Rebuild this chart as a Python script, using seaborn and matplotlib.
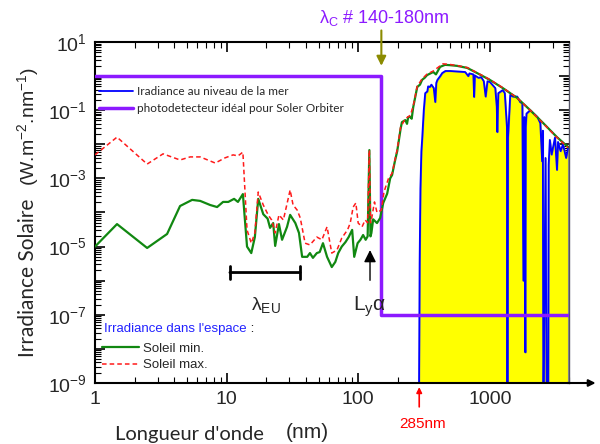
import numpy as np
import seaborn as sns
import matplotlib
matplotlib.use("Agg")
import matplotlib.pyplot as plt
from matplotlib.ticker import LogLocator, FixedLocator, NullFormatter

# Soleil min. (espace) : longueur d'onde (nm), log10 irradiance
min_nm = [1, 1.47, 2.49, 3.53, 4.43, 5.47, 6.3, 7.5, 8.47, 9.4, 10.3, 11.4, 12.2, 13.3,
          14.3, 15.4, 16.4, 17.4, 19, 20.5, 21.4, 22.6, 23.4, 25, 26.4, 28.8, 30.4, 33.3,
          35.5, 37.5, 41, 43, 45.3, 48.5, 51, 54, 58, 63, 67, 70.5, 75, 80, 84.7, 90,
          93.3, 99, 104, 109, 114, 118, 121.6, 124, 126, 130, 139, 147, 155, 166, 175,
          181, 190, 198, 210, 215, 228, 235, 240, 249, 255, 262, 281, 295, 306, 320, 334,
          372, 390, 419, 457, 500, 565, 674, 800, 1000, 1254, 1615, 2030, 2550, 3240, 3940]
min_log = [-5.0, -4.34, -5.04, -4.63, -3.81, -3.63, -3.66, -3.78, -3.84, -3.69, -3.69, -3.6,
           -3.69, -3.46, -5.0, -5.19, -4.72, -3.6, -4.05, -4.18, -4.45, -4.31, -4.98, -4.34,
           -4.8, -4.42, -4.07, -4.31, -4.6, -5.3, -5.3, -5.19, -5.33, -5.19, -5.16, -4.9,
           -5.3, -5.6, -5.45, -5.19, -5.0, -4.87, -4.72, -4.51, -5.3, -4.9, -4.8, -4.66,
           -4.8, -4.7, -2.17, -4.7, -4.6, -4.2, -4.31, -4.16, -3.72, -3.45, -3.0, -2.9,
           -2.5, -2.2, -1.55, -1.35, -1.29, -1.4, -1.2, -1.2, -1.25, -0.91, -0.32, -0.25,
           -0.11, -0.05, 0.03, 0.12, 0.05, 0.27, 0.33, 0.32, 0.30, 0.24, 0.09, -0.11,
           -0.35, -0.64, -1.0, -1.38, -1.79, -2.08]

# Soleil max. (espace)
max_nm = [1, 1.47, 2.49, 3.29, 4.43, 5.28, 6.3, 8.2, 9.7, 11.2, 12.2, 13.3, 14.3, 15.4,
          16.4, 17.4, 19, 20.7, 22, 23.4, 25, 27, 30.4, 32, 34.4, 36.3, 39.5, 43, 48.5,
          53, 58, 63, 69, 75, 83, 87, 91.6, 96, 100, 107, 113, 118, 121.6, 124, 126, 133,
          139, 150, 157, 170, 181, 198, 210, 228, 249, 262, 281, 306, 334, 372, 419, 440,
          500, 565, 674, 800, 1000, 1254, 1615, 2030, 2550, 3240, 3940]
max_log = [-2.31, -1.79, -2.58, -2.28, -2.46, -2.37, -2.37, -2.55, -2.4, -2.31, -2.34,
           -2.23, -4.51, -4.9, -4.6, -3.4, -3.78, -4.07, -4.22, -4.6, -4.07, -4.22, -3.34,
           -3.78, -3.93, -4.16, -4.9, -4.95, -4.72, -4.8, -4.42, -5.19, -5.1, -4.75, -4.51,
           -4.31, -3.84, -3.72, -4.31, -4.42, -4.22, -4.3, -2.17, -4.3, -4.22, -3.69, -4.0,
           -3.93, -3.4, -3.0, -2.85, -2.15, -1.5, -1.25, -1.15, -0.88, -0.3, -0.08, 0.06,
           0.15, 0.30, 0.36, 0.34, 0.31, 0.25, 0.10, -0.10, -0.34, -0.64, -1.0, -1.39,
           -1.8, -2.1]

# Irradiance au niveau de la mer
sea_nm = [290, 293, 297, 302, 306, 315, 323, 335, 340, 350, 360, 375, 385, 392, 400, 420,
          435, 460, 500, 550, 600, 650, 686, 700, 750, 760, 770, 820, 860, 900, 930, 960,
          1000, 1100, 1130, 1140, 1160, 1254, 1300, 1350, 1358, 1366, 1375, 1430, 1500,
          1615, 1700, 1767, 1800, 1830, 1862, 1875, 1900, 2030, 2300, 2420, 2500, 2530,
          2550, 2570, 2650, 2700, 2780, 2800, 2860, 2950, 3130, 3240, 3300, 3450, 3600,
          3800, 3940]
sea_log = [-9.0, -5.5, -3.3, -2.2, -1.87, -1.0, -0.5, -0.45, -0.3, -0.32, -0.25, -0.35,
           -0.76, -0.2, -0.11, 0.0, 0.09, 0.15, 0.15, 0.14, 0.13, 0.12, 0.0, 0.08, 0.05,
           -0.61, 0.02, -0.05, -0.03, -0.15, -0.6, -0.15, -0.17, -0.35, -0.9, -1.64, -0.5,
           -0.41, -0.5, -1.5, -9.0, -9.0, -1.8, -0.55, -0.6, -0.6, -0.76, -0.8, -6.0,
           -1.2, -8.1, -1.5, -1.1, -1.0, -1.2, -1.38, -2.5, -1.6, -9.0, -9.0, -2.4, -9.0,
           -9.0, -2.6, -1.87, -2.3, -1.8, -2.75, -1.93, -2.2, -2.0, -2.4, -2.1]

# photodetecteur ideal
det_nm = [1, 150, 150, 4000]
det_val = [1, 1, 1e-7, 1e-7]

xticks_nm = [1, 10, 100, 1000]
ytick_exp = [1, -1, -3, -5, -7, -9]

sns.set_style("ticks")
plt.rcParams['font.family'] = ['Liberation Sans', 'DejaVu Sans']
plt.rcParams['mathtext.fontset'] = 'custom'
plt.rcParams['mathtext.rm'] = 'Liberation Sans'
plt.rcParams['mathtext.it'] = 'Liberation Sans:italic'
plt.rcParams['mathtext.default'] = 'regular'

fig = plt.figure(figsize=(6, 4.44), dpi=100)
ax = fig.add_axes([95 / 600, 61 / 444, 474 / 600, 341 / 444])

sea_val = np.power(10.0, sea_log)
ax.fill_between(sea_nm, sea_val, 1e-9, facecolor='#ffff00', edgecolor='#909090', linewidth=1, zorder=1)
sns.lineplot(x=sea_nm, y=sea_val, ax=ax, color='#0000ff', linewidth=1.3, estimator=None, sort=False, zorder=2)
h_sea = ax.lines[-1]
h_det, = ax.plot(det_nm, det_val, color='#8c1aff', linewidth=2.5, zorder=3)
sns.lineplot(x=min_nm, y=np.power(10.0, min_log), ax=ax, color='#118811', linewidth=1.6,
             estimator=None, sort=False, zorder=4)
h_min = ax.lines[-1]
sns.lineplot(x=max_nm, y=np.power(10.0, max_log), ax=ax, color='#ff1a1a', linewidth=1.1,
             estimator=None, sort=False, zorder=5)
h_max = ax.lines[-1]
h_max.set_dashes([3, 2])

ax.set_xscale('log')
ax.set_yscale('log')
ax.set_xlim(1, 4000)
ax.set_ylim(1e-9, 10)

ax.set_xticks(xticks_nm)
ax.set_xticklabels([str(v) for v in xticks_nm])
ax.xaxis.set_minor_locator(LogLocator(base=10, subs=np.arange(2, 10)))
ax.xaxis.set_minor_formatter(NullFormatter())
ax.yaxis.set_major_locator(FixedLocator([10.0 ** e for e in range(-9, 2)]))
ax.set_yticklabels(['10$^{%d}$' % e if e in ytick_exp else '' for e in range(-9, 2)])
ax.yaxis.set_minor_locator(LogLocator(base=10, subs=np.arange(2, 10), numticks=20))
ax.yaxis.set_minor_formatter(NullFormatter())
ax.tick_params(which='both', direction='in', top=True, right=True, color='black')
ax.tick_params(which='major', length=7, width=1.2, labelsize=14, pad=6)
ax.tick_params(which='minor', length=4, width=0.8)
for s in ax.spines.values():
    s.set_linewidth(1.5)
    s.set_color('black')
ax.spines['right'].set_color('#555566')
ax.spines['right'].set_linewidth(1)

# fleche de l'axe x
ax.annotate('', xy=(1.062, 0), xytext=(0.99, 0), xycoords='axes fraction',
            arrowprops=dict(arrowstyle='-|>', color='black', lw=1.5, mutation_scale=10), annotation_clip=False)

# legendes
leg1 = ax.legend([h_sea, h_det], ['Iradiance au niveau de la mer', 'photodetecteur idéal pour Soler Orbiter'],
                 loc='upper left', bbox_to_anchor=(0.008, 0.872), frameon=False, borderpad=0,
                 borderaxespad=0, handlelength=2.9, handletextpad=0.35, labelspacing=0.55,
                 prop={'family': 'Lato', 'size': 8.5})
ax.add_artist(leg1)
ax.legend([h_min, h_max], ['Soleil min.', 'Soleil max.'], loc='upper left',
          bbox_to_anchor=(0.015, 0.118), frameon=False, borderpad=0, borderaxespad=0,
          handlelength=2.8, handletextpad=0.3, labelspacing=0.3, prop={'size': 9.5})
t_esp = ax.text(0.019, 0.14, "Irradiance dans l'espace", color='#2222ff', fontsize=9.5,
                transform=ax.transAxes, va='bottom')
ax.annotate(' :', xy=(1, 0), xycoords=t_esp, va='bottom', fontsize=9.5, color='black')

# annotations
ax.annotate('', xy=(150, 10 ** 0.22), xytext=(150, 10 ** 1.42),
            arrowprops=dict(arrowstyle='-|>', color='#8b8b00', lw=1.5, mutation_scale=14), annotation_clip=False)
fig.text(384 / 600, 1 - 18 / 444, 'λ$_C$ # 140-180nm', color='#8c1aff', fontsize=13, ha='center', va='center')

ax.annotate('', xy=(123, 10 ** -5.02), xytext=(123, 10 ** -6.07),
            arrowprops=dict(arrowstyle='-|>', color='black', lw=1.0, mutation_scale=18))
ax.text(121, 10 ** -6.75, 'L$_y$α', fontsize=15, ha='center', va='center')

ax.annotate('', xy=(10.6, 10 ** -5.76), xytext=(36.2, 10 ** -5.76),
            arrowprops=dict(arrowstyle='|-|', color='black', lw=2, mutation_scale=5, shrinkA=0, shrinkB=0))
ax.text(20, 10 ** -6.7, 'λ$_{EU}$', fontsize=14, ha='center', va='center')

ax.annotate('', xy=(291, -0.012), xytext=(291, -0.07), xycoords=('data', 'axes fraction'),
            arrowprops=dict(arrowstyle='-|>', color='#ff0000', lw=1.2, mutation_scale=8,
                            shrinkA=0, shrinkB=0), annotation_clip=False)
fig.text(423 / 600, 1 - 424 / 444, '285nm', color='#ff0000', fontsize=11, ha='center', va='center')

# titres des axes
fig.text(115 / 600, 1 - 434 / 444, "Longueur d'onde", fontsize=14.5, family='Lato', ha='left', va='center')
fig.text(286 / 600, 1 - 432 / 444, "(nm)", fontsize=15, ha='left', va='center')
fig.text(28 / 600, 1 - 357 / 444, "Irradiance Solaire", fontsize=15, family='Lato', rotation=90,
         ha='center', va='bottom')
fig.text(28 / 600, 1 - 186 / 444, "(W.m$^{-2}$.nm$^{-1}$)", fontsize=14, rotation=90,
         ha='center', va='bottom')

fig.savefig('out.png', dpi=100)
